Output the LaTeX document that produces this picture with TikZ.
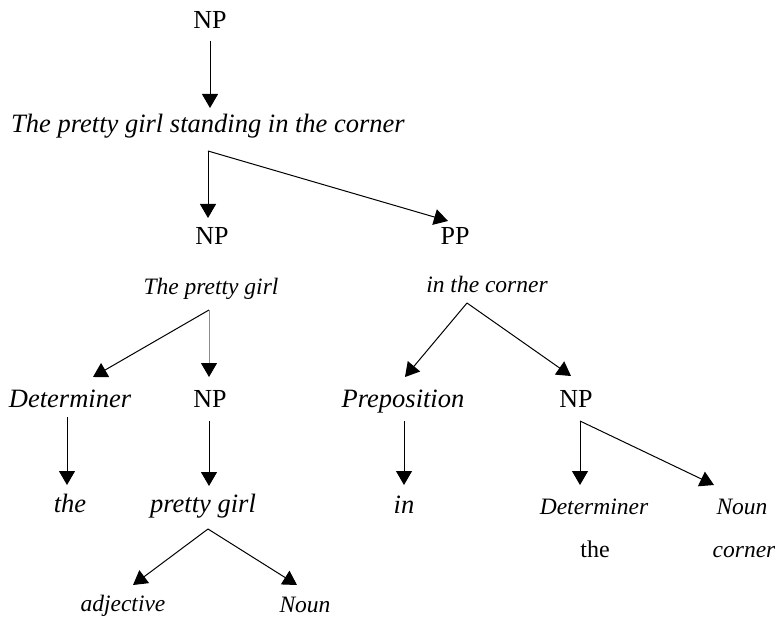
\documentclass[tikz,border=0pt]{standalone}
\usepackage{fontspec}
\setmainfont{Liberation Serif}
\usetikzlibrary{arrows.meta}
\begin{document}
\begin{tikzpicture}[x=1pt,y=-1pt,
 lbl/.style={anchor=base,inner sep=0pt},
 big/.style={lbl,font=\fontsize{26.5}{30}\selectfont\itshape},
 small/.style={lbl,font=\fontsize{23.5}{27}\selectfont\itshape},
 up/.style={lbl,font=\fontsize{26}{28}\selectfont},
 upsmall/.style={lbl,font=\fontsize{24}{26}\selectfont},
 arr/.style={line width=1pt,-{Triangle[length=14pt,width=16pt]}},
 grayarr/.style={line width=1pt,draw=black!45,-{Triangle[length=14pt,width=16pt,color=black]}},
]
\useasboundingbox (0,0) rectangle (775,617);
% nodes
\node[up] (np0) at (210,29) {NP};
\node[big] (s0) at (208,133) {The pretty girl standing in the corner};
\node[up] (np1) at (212,245) {NP};
\node[up] (pp) at (455,245) {PP};
\node[small] (s1) at (211,294) {The pretty girl};
\node[small] (s2) at (487,292) {in the corner};
\node[big] (det1) at (70,407) {Determiner};
\node[up] (np2) at (210,407) {NP};
\node[big] (prep) at (403,407) {Preposition};
\node[up] (np3) at (576,407) {NP};
\node[big] (the1) at (70,512) {the};
\node[big] (pg) at (203,512) {pretty girl};
\node[big] (in) at (404,513) {in};
\node[small] (det2) at (594,514) {Determiner};
\node[small] (noun1) at (742,514) {Noun};
\node[upsmall] (the2) at (595,557) {the};
\node[small] (corner) at (744,557) {corner};
\node[small] (adj) at (123,611) {adjective};
\node[small] (noun2) at (305,612) {Noun};
% connector ends
\coordinate (np0-o) at (210,41);
\coordinate (s0-i) at (210,108);
\coordinate (s0-o) at (208,151);
\coordinate (np1-i) at (208,218);
\coordinate (pp-i) at (448,221);
\coordinate (s1-o) at (209,310);
\coordinate (det1-i) at (93,377);
\coordinate (np2-i) at (209,377);
\coordinate (s2-o) at (467,303);
\coordinate (prep-i) at (405,377);
\coordinate (np3-i) at (571,376);
\coordinate (det1-o) at (67,417);
\coordinate (the1-i) at (67,485);
\coordinate (np2-o) at (209,421);
\coordinate (pg-i) at (209,486);
\coordinate (prep-o) at (404,421);
\coordinate (in-i) at (404,485);
\coordinate (np3-o) at (580,421);
\coordinate (det2-i) at (580,485);
\coordinate (noun1-i) at (714,485);
\coordinate (pg-o) at (208,529);
\coordinate (adj-i) at (133,585);
\coordinate (noun2-i) at (297,585);
% connectors
\draw[arr] (np0-o) -- (s0-i);
\draw[arr] (s0-o) -- (np1-i);
\draw[arr] (s0-o) -- (pp-i);
\draw[arr] (s1-o) -- (det1-i);
\draw[grayarr] (s1-o) -- (np2-i);
\draw[arr] (s2-o) -- (prep-i);
\draw[arr] (s2-o) -- (np3-i);
\draw[arr] (det1-o) -- (the1-i);
\draw[arr] (np2-o) -- (pg-i);
\draw[arr] (prep-o) -- (in-i);
\draw[arr] (np3-o) -- (det2-i);
\draw[arr] (np3-o) -- (noun1-i);
\draw[arr] (pg-o) -- (adj-i);
\draw[arr] (pg-o) -- (noun2-i);
\end{tikzpicture}
\end{document}
